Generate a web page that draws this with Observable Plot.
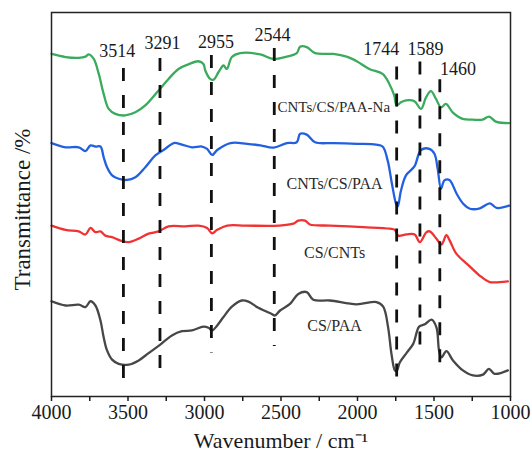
<!DOCTYPE html>
<html>
<head>
<meta charset="utf-8">
<script src="https://cdn.jsdelivr.net/npm/d3@7"></script>
<script src="https://cdn.jsdelivr.net/npm/@observablehq/plot@0.6"></script>
<style>
  html, body { margin: 0; padding: 0; background: #fff; }
  #chart { width: 531px; height: 459px; }
</style>
</head>
<body>
<div id="chart"></div>
<script>
// Series: [wavenumber (cm-1), transmittance (arbitrary, offset)]
const cntsCsPaaNa = [
  [4000,89.2],[3908,88.4],[3822,88.2],[3778,88.5],[3756,89.1],[3724,87.9],[3691,84.0],[3659,78.8],
  [3626,74.9],[3583,73.6],[3518,73.2],[3452,74.0],[3387,75.8],[3300,79.7],[3235,82.7],[3170,85.3],
  [3105,86.5],[3040,87.3],[3007,86.6],[2995,84.9],[2963,82.7],[2941,82.5],[2908,84.5],[2876,86.2],
  [2854,85.3],[2821,88.4],[2767,89.4],[2636,89.1],[2550,87.9],[2462,88.5],[2397,89.4],[2375,91.1],
  [2332,91.0],[2277,89.4],[2158,89.2],[2071,88.5],[2005,87.3],[1923,85.3],[1836,84.0],[1792,81.4],
  [1760,78.4],[1744,75.8],[1716,76.6],[1683,77.1],[1628,76.9],[1585,74.9],[1552,77.9],[1520,79.5],
  [1487,77.5],[1454,75.3],[1422,76.2],[1378,74.0],[1313,72.3],[1248,72.1],[1183,72.1],[1140,72.9],
  [1096,71.6],[1009,71.2]
];
const cntsCsPaa = [
  [4000,66.0],[3908,64.9],[3822,64.9],[3778,63.9],[3745,65.4],[3713,65.1],[3680,65.1],[3659,62.3],
  [3637,59.7],[3604,57.6],[3561,56.7],[3506,56.4],[3452,57.1],[3387,59.7],[3321,62.8],[3256,64.5],
  [3201,66.0],[3147,65.6],[3082,64.9],[3017,65.1],[2983,64.5],[2950,62.9],[2917,64.2],[2830,66.0],
  [2721,65.8],[2634,65.4],[2550,64.8],[2462,66.0],[2397,66.2],[2375,68.4],[2332,68.2],[2277,66.2],
  [2158,66.0],[2005,65.8],[1879,65.6],[1836,65.1],[1803,61.5],[1775,55.4],[1748,50.2],[1737,49.5],
  [1716,53.6],[1683,57.6],[1628,59.9],[1585,64.2],[1530,64.5],[1497,63.2],[1476,59.3],[1454,54.1],
  [1432,56.3],[1399,56.4],[1352,52.8],[1309,50.2],[1265,48.9],[1200,49.0],[1135,50.3],[1091,49.1],
  [1009,49.7]
];
const csCnts = [
  [4000,44.5],[3908,43.4],[3822,43.0],[3778,42.2],[3745,43.9],[3713,42.8],[3680,43.0],[3648,41.9],
  [3604,41.5],[3549,40.6],[3495,40.2],[3430,41.1],[3365,42.4],[3300,43.0],[3235,44.3],[3126,44.3],
  [3039,44.5],[2983,43.9],[2950,42.5],[2917,43.4],[2852,44.5],[2732,44.5],[2514,44.5],[2420,45.0],
  [2387,45.8],[2343,45.8],[2311,44.8],[2180,44.5],[1963,44.1],[1789,43.7],[1756,43.4],[1734,41.9],
  [1680,42.2],[1626,42.2],[1593,40.2],[1549,42.8],[1528,43.0],[1484,41.1],[1451,39.6],[1419,42.0],
  [1397,40.6],[1354,37.2],[1267,33.9],[1202,31.5],[1136,29.8],[1071,29.8],[1017,30.0]
];
const csPaa = [
  [4000,24.8],[3908,23.7],[3822,23.9],[3778,23.3],[3745,24.8],[3713,23.7],[3680,19.8],[3659,15.4],
  [3637,12.0],[3604,9.6],[3561,8.5],[3495,8.3],[3430,9.4],[3365,11.3],[3289,13.5],[3213,15.9],
  [3147,17.0],[3082,17.2],[3007,18.2],[2974,17.9],[2950,17.2],[2917,18.5],[2876,20.7],[2821,23.4],
  [2756,25.0],[2713,24.7],[2648,23.1],[2561,21.5],[2539,21.1],[2506,22.4],[2441,24.1],[2387,26.7],
  [2332,27.2],[2289,25.2],[2180,25.0],[2006,24.0],[1876,24.6],[1832,23.4],[1800,18.0],[1778,11.1],
  [1756,6.8],[1745,6.6],[1723,8.9],[1680,11.3],[1636,13.7],[1597,18.2],[1560,18.8],[1516,20.0],
  [1484,18.0],[1467,12.0],[1451,10.2],[1419,11.8],[1376,9.4],[1311,6.8],[1246,5.5],[1180,5.7],
  [1141,7.2],[1104,5.9],[1017,6.8]
];

const seriesNames = ["CNTs/CS/PAA-Na", "CNTs/CS/PAA", "CS/CNTs", "CS/PAA"];
const seriesColors = ["#3aab5c", "#2260e0", "#f03232", "#474747"];
const seriesLabelX = [2155, 2150, 2150, 2150];
const seriesLabelY = [75.3, 55.5, 37.5, 18.5];
const seriesLabelSize = [15, 16, 16, 16];

// Dashed marker lines
const peakWave = [3530, 3291, 2955, 2544, 1744, 1592, 1462];
const peakTop = [85.4, 88.0, 88.8, 90.6, 85.8, 87.1, 82.5];
const peakBottom = [3.4, 5.7, 11.3, 13.0, 3.4, 9.9, 5.2];
const peakLabels = ["3514", "3291", "2955", "2544", "1744", "1589", "1460"];
const peakLabelX = [3571, 3275, 2925, 2555, 1845, 1555, 1343];
const peakLabelY = [90.0, 91.9, 92.3, 94.0, 90.5, 90.5, 85.2];

const majorTicks = [4000, 3500, 3000, 2500, 2000, 1500, 1000];
const minorTicks = [3750, 3250, 2750, 2250, 1750, 1250];

const allSeries = [cntsCsPaaNa, cntsCsPaa, csCnts, csPaa];
const lineData = allSeries.flatMap((s, i) => s.map(([w, t]) => ({w, t, name: seriesNames[i]})));
const seriesLabels = seriesNames.map((n, i) => ({name: n, x: seriesLabelX[i], y: seriesLabelY[i], size: seriesLabelSize[i]}));
const peaks = peakWave.map((w, i) => ({w, top: peakTop[i], bottom: peakBottom[i]}));
const peakText = peakLabels.map((t, i) => ({t, x: peakLabelX[i], y: peakLabelY[i]}));

const font = "'Liberation Serif', 'Times New Roman', Times, serif";

const chart = Plot.plot({
  width: 531,
  height: 459,
  marginLeft: 51,
  marginRight: 21,
  marginTop: 12,
  marginBottom: 63,
  style: {fontFamily: font, background: "#fff", color: "#1a1a1a"},
  x: {domain: [4000, 1000]},
  y: {domain: [0, 100], axis: null},
  color: {domain: seriesNames, range: seriesColors},
  marks: [
    Plot.line(lineData, {x: "w", y: "t", z: "name", stroke: "name", strokeWidth: 2.3, curve: "catmull-rom"}),
    Plot.ruleX(peaks, {x: "w", y1: "top", y2: "bottom", stroke: "#111", strokeWidth: 2.8, strokeDasharray: "13,14"}),
    Plot.text(peakText, {x: "x", y: "y", text: "t", fontSize: 18, fill: "#1a1a1a"}),
    ...seriesLabels.map(l => Plot.text([l], {x: "x", y: "y", text: "name", fontSize: l.size, fill: "#2a2a2a"})),
    Plot.frame({stroke: "#222", strokeWidth: 1.5}),
    Plot.axisX({ticks: majorTicks, tickSize: 5, tickPadding: 3, fontSize: 20, tickFormat: d => String(d), label: null, strokeWidth: 1.5}),
    Plot.axisX({ticks: minorTicks, tickSize: 5, tickFormat: () => "", label: null, strokeWidth: 1.5}),
    Plot.text(["Wavenumber / cm\u207B\u00B9"], {frameAnchor: "bottom", text: d => d, dy: 44, fontSize: 22, textAnchor: "middle", lineAnchor: "middle", fill: "#1a1a1a"}),
    Plot.text(["Transmittance /%"], {frameAnchor: "left", text: d => d, rotate: -90, dx: -29, dy: 5, fontSize: 23, textAnchor: "middle", lineAnchor: "middle", fill: "#1a1a1a"})
  ]
});
document.getElementById("chart").appendChild(chart);
</script>
</body>
</html>
